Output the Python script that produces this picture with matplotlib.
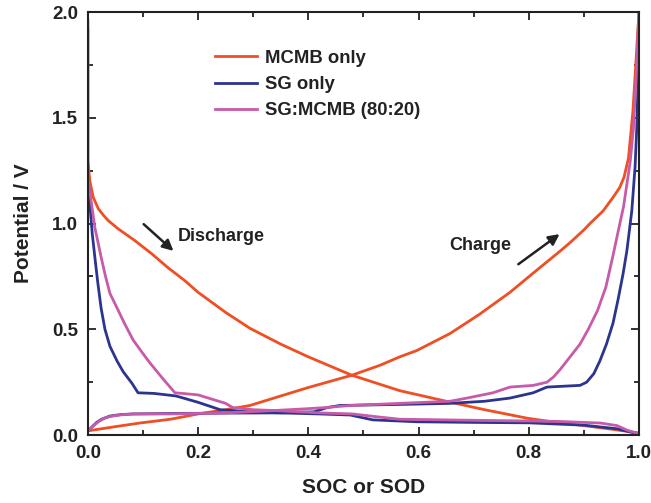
import matplotlib
matplotlib.use('Agg')
import matplotlib.pyplot as plt
from matplotlib.ticker import MultipleLocator, FormatStrFormatter

plt.rcParams['font.family'] = ['Liberation Sans', 'DejaVu Sans']
plt.rcParams['font.weight'] = 'bold'

# MCMB only
mcmb_dis_x = [0, 0.0, 0.0036, 0.0097, 0.019, 0.028, 0.037, 0.055, 0.085, 0.116, 0.146, 0.176, 0.2, 0.25, 0.294,
              0.35, 0.4, 0.479, 0.566, 0.657, 0.72, 0.797, 0.85, 0.9, 0.95, 1.0]
mcmb_dis_v = [1.96, 1.30, 1.20, 1.124, 1.07, 1.04, 1.014, 0.975, 0.92, 0.857, 0.79, 0.73, 0.675, 0.58, 0.505,
              0.43, 0.37, 0.283, 0.21, 0.156, 0.12, 0.08, 0.06, 0.045, 0.028, 0.01]
mcmb_chg_x = [0, 0.05, 0.094, 0.15, 0.2, 0.25, 0.294, 0.35, 0.4, 0.479, 0.53, 0.566, 0.597, 0.657, 0.71,
              0.766, 0.81, 0.857, 0.875, 0.9, 0.911, 0.935, 0.953, 0.965, 0.973, 0.981, 0.985, 0.989, 0.993, 1.0]
mcmb_chg_v = [0.02, 0.04, 0.057, 0.075, 0.10, 0.12, 0.14, 0.185, 0.225, 0.283, 0.33, 0.37, 0.40, 0.48, 0.57,
              0.675, 0.77, 0.87, 0.91, 0.97, 1.0, 1.06, 1.124, 1.17, 1.22, 1.31, 1.42, 1.53, 1.70, 2.0]

# SG only
sg_dis_x = [0, 0.0036, 0.008, 0.0127, 0.018, 0.024, 0.031, 0.04, 0.053, 0.064, 0.08, 0.091, 0.12, 0.16, 0.2,
            0.24, 0.294, 0.35, 0.42, 0.476, 0.517, 0.597, 0.7, 0.8, 0.9, 0.96, 1.0]
sg_dis_v = [1.22, 1.09, 0.95, 0.84, 0.72, 0.60, 0.50, 0.42, 0.35, 0.30, 0.245, 0.20, 0.197, 0.185, 0.155,
            0.12, 0.11, 0.105, 0.10, 0.095, 0.072, 0.063, 0.06, 0.058, 0.047, 0.03, 0.005]
sg_chg_x = [0, 0.008, 0.016, 0.025, 0.04, 0.06, 0.082, 0.15, 0.25, 0.35, 0.41, 0.434, 0.457, 0.5, 0.566,
            0.657, 0.72, 0.766, 0.808, 0.833, 0.87, 0.893, 0.905, 0.918, 0.929, 0.941, 0.953, 0.962,
            0.971, 0.978, 0.987, 0.993, 0.996, 0.999, 1.0]
sg_chg_v = [0.02, 0.04, 0.06, 0.075, 0.09, 0.097, 0.10, 0.102, 0.104, 0.105, 0.11, 0.13, 0.14, 0.142, 0.145,
            0.15, 0.16, 0.175, 0.20, 0.227, 0.232, 0.235, 0.25, 0.29, 0.35, 0.43, 0.53, 0.64,
            0.76, 0.87, 1.06, 1.27, 1.45, 1.75, 1.88]

# SG:MCMB (80:20)
mix_dis_x = [0, 0.0, 0.001, 0.0036, 0.0127, 0.025, 0.032, 0.04, 0.055, 0.066, 0.082, 0.1, 0.113, 0.135, 0.158, 0.18,
             0.2, 0.225, 0.25, 0.263, 0.3, 0.35, 0.42, 0.48, 0.53, 0.566, 0.7, 0.85, 0.93, 0.96, 0.978, 1.0]
mix_dis_v = [1.92, 1.25, 1.20, 1.15, 0.98, 0.83, 0.75, 0.67, 0.59, 0.53, 0.45, 0.385, 0.34, 0.27, 0.20, 0.195,
             0.19, 0.17, 0.15, 0.13, 0.12, 0.115, 0.105, 0.10, 0.085, 0.075, 0.07, 0.065, 0.057, 0.045, 0.024, 0.005]
mix_chg_x = [0, 0.008, 0.02, 0.03, 0.04, 0.06, 0.082, 0.15, 0.25, 0.33, 0.4, 0.43, 0.476, 0.566, 0.657, 0.688,
             0.735, 0.766, 0.808, 0.833, 0.845, 0.857, 0.875, 0.893, 0.908, 0.925, 0.94, 0.953, 0.962, 0.972,
             0.984, 0.99, 0.995, 1.0]
mix_chg_v = [0.02, 0.04, 0.065, 0.08, 0.088, 0.096, 0.10, 0.10, 0.105, 0.115, 0.125, 0.13, 0.14, 0.15, 0.16, 0.175,
             0.20, 0.227, 0.235, 0.25, 0.275, 0.31, 0.37, 0.43, 0.50, 0.59, 0.70, 0.85, 0.96, 1.08,
             1.29, 1.45, 1.70, 2.0]

col_mcmb = '#f04e23'
col_sg = '#2b3590'
col_mix = '#c75baa'

fig = plt.figure(figsize=(6.51, 5.03), dpi=100)
ax = fig.add_axes([0.135, 0.135, 0.8465, 0.841])

lw = 2.0
ax.plot(mcmb_dis_x, mcmb_dis_v, color=col_mcmb, lw=lw, label='MCMB only')
ax.plot(mcmb_chg_x, mcmb_chg_v, color=col_mcmb, lw=lw)
ax.plot(sg_dis_x, sg_dis_v, color=col_sg, lw=lw, label='SG only')
ax.plot(sg_chg_x, sg_chg_v, color=col_sg, lw=lw)
ax.plot(mix_dis_x, mix_dis_v, color=col_mix, lw=lw, label='SG:MCMB (80:20)')
ax.plot(mix_chg_x, mix_chg_v, color=col_mix, lw=lw)

ax.set_xlim(0, 1.0)
ax.set_ylim(0, 2.0)
ax.xaxis.set_major_locator(MultipleLocator(0.2))
ax.xaxis.set_minor_locator(MultipleLocator(0.1))
ax.yaxis.set_major_locator(MultipleLocator(0.5))
ax.yaxis.set_minor_locator(MultipleLocator(0.25))
ax.xaxis.set_major_formatter(FormatStrFormatter('%.1f'))
ax.yaxis.set_major_formatter(FormatStrFormatter('%.1f'))
ax.tick_params(which='both', direction='in', top=True, right=True, width=1.3,
               labelsize=13.5, colors='#222222', pad=7)
ax.tick_params(which='major', length=6)
ax.tick_params(which='minor', length=3.5)
for s in ax.spines.values():
    s.set_linewidth(1.5)
    s.set_color('#222222')

ax.set_xlabel('SOC or SOD', fontsize=15, fontweight='bold', labelpad=12, color='#222222')
ax.set_ylabel('Potential / V', fontsize=15, fontweight='bold', labelpad=14, color='#222222')

leg = ax.legend(loc='upper left', bbox_to_anchor=(0.2, 0.95), frameon=False, fontsize=13.3,
                handlelength=2.3, handletextpad=0.4, labelspacing=0.5)
for t in leg.get_texts():
    t.set_fontweight('bold')
    t.set_color('#222222')

# arrows and labels
ax.annotate('', xy=(0.159, 0.862), xytext=(0.0975, 1.006),
            arrowprops=dict(arrowstyle='-|>', color='#222222', lw=1.8, mutation_scale=16))
ax.text(0.163, 0.94, 'Discharge', fontsize=13, fontweight='bold', va='center', ha='left', color='#222222')
ax.annotate('', xy=(0.86, 0.958), xytext=(0.777, 0.80),
            arrowprops=dict(arrowstyle='-|>', color='#222222', lw=1.8, mutation_scale=16))
ax.text(0.655, 0.895, 'Charge', fontsize=13, fontweight='bold', va='center', ha='left', color='#222222')

fig.savefig('out.png', dpi=100)
